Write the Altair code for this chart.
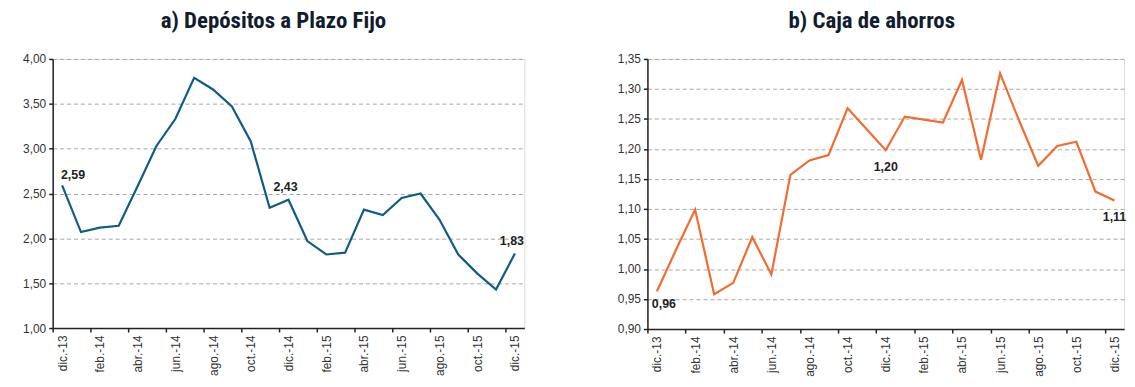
import altair as alt
import pandas as pd

months = ["dic.-13", "ene.-14", "feb.-14", "mar.-14", "abr.-14", "may.-14", "jun.-14",
          "jul.-14", "ago.-14", "sep.-14", "oct.-14", "nov.-14", "dic.-14", "ene.-15",
          "feb.-15", "mar.-15", "abr.-15", "may.-15", "jun.-15", "jul.-15", "ago.-15",
          "sep.-15", "oct.-15", "nov.-15", "dic.-15"]

plazo_fijo = [2.59, 2.07, 2.12, 2.14, 2.58, 3.03, 3.33, 3.79, 3.66, 3.47, 3.08, 2.34, 2.43,
              1.97, 1.82, 1.84, 2.32, 2.26, 2.45, 2.50, 2.21, 1.82, 1.61, 1.43, 1.83]

caja_ahorros = [0.963, 1.032, 1.099, 0.958, 0.977, 1.053, 0.991, 1.157, 1.181, 1.190, 1.268,
                1.233, 1.198, 1.254, 1.249, 1.244, 1.315, 1.182, 1.326, 1.247, 1.172, 1.205,
                1.212, 1.129, 1.114]

yticks_a = [1.0, 1.5, 2.0, 2.5, 3.0, 3.5, 4.0]
yticks_b = [0.90, 0.95, 1.00, 1.05, 1.10, 1.15, 1.20, 1.25, 1.30, 1.35]

# annotated points: (index, dx, dy)
annot_a = [(0, 11, -10), (12, -3, -13), (24, -3, -13)]
annot_b = [(0, 7, 13), (12, 0, 17), (24, 0, 17)]

FONT = "Liberation Sans"
TITLE_FONT = "Roboto Condensed, Roboto"

label_array = "[" + ",".join("'" + m + "'" for m in months) + "]"
x_values = sorted([i - 0.5 for i in range(0, len(months), 2)] + list(range(0, len(months), 2)))


def panel(values, color, title, ydomain, yticks, annots, width, height):
    df = pd.DataFrame({"i": list(range(len(months))), "mes": months, "v": values})
    xaxis = alt.Axis(
        title=None, values=x_values, grid=False,
        labelExpr=f"datum.value % 1 == 0 ? {label_array}[datum.value] : ''",
        labelAngle=-90, labelFontSize=12, labelColor="#333333", labelFont=FONT,
        labelOverlap=False, labelFlush=False, labelPadding=3,
        tickSize=4, tickColor="#222222", tickWidth=1.5,
        tickOpacity={"condition": {"test": "datum.value % 1 != 0", "value": 1}, "value": 0},
        domainColor="#222222", domainWidth=1.5,
    )
    yaxis = alt.Axis(
        title=None, values=yticks, grid=True, gridColor="#a6a6a6", gridDash=[4, 3], gridWidth=1,
        labelExpr="replace(format(datum.value, '.2f'), '.', ',')",
        labelFontSize=12, labelColor="#333333", labelFont=FONT, labelPadding=3,
        tickSize=4, tickColor="#222222", tickWidth=1.5,
        domainColor="#222222", domainWidth=1.5,
    )
    x = alt.X("i:Q", scale=alt.Scale(domain=[-0.5, len(months) - 0.5], nice=False, zero=False), axis=xaxis)
    y = alt.Y("v:Q", scale=alt.Scale(domain=ydomain, nice=False, zero=False), axis=yaxis)
    base = alt.Chart(df)
    layers = [base.mark_line(color=color, strokeWidth=2.2).encode(x=x, y=y)]
    for k, dx, dy in annots:
        layers.append(
            base.transform_filter(alt.datum.i == k)
            .transform_calculate(t="replace(format(datum.v, '.2f'), '.', ',')")
            .mark_text(dx=dx, dy=dy, fontWeight="bold", fontSize=12.5, color="#222222", font=FONT)
            .encode(x=x, y=y, text="t:N")
        )
    return alt.layer(*layers).properties(
        width=width, height=height,
        title=alt.TitleParams(title, font=TITLE_FONT, fontSize=23, fontWeight="bold",
                              color="#111c2e", anchor="middle", frame="bounds", offset=20),
    )


left = panel(plazo_fijo, "#0f5c85", "a) Depósitos a Plazo Fijo", [1.0, 4.0], yticks_a, annot_a, 475, 271)
right = panel(caja_ahorros, "#f26b30", "b) Caja de ahorros", [0.90, 1.35], yticks_b, annot_b, 480, 272)

chart = alt.hconcat(left, right, spacing=92).properties(
    padding={"left": 14, "top": 0, "right": 0, "bottom": 0}
).configure_view(stroke=None).configure(font=FONT)

chart.save("out.html", embed_options={"renderer": "svg", "actions": False})
